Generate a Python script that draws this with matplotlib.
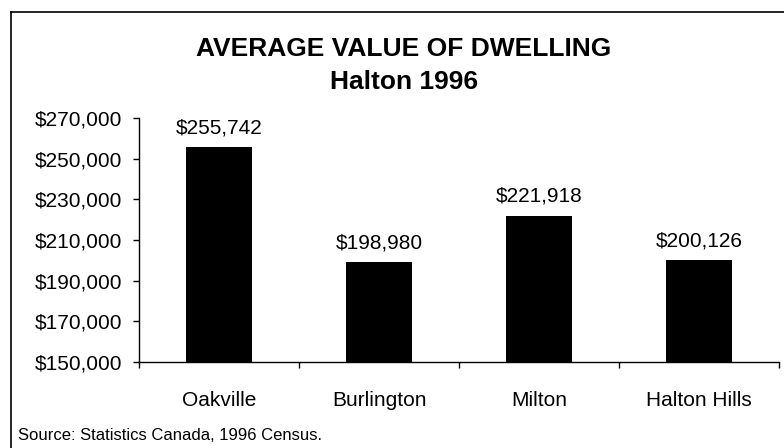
import matplotlib
matplotlib.use("Agg")
import matplotlib.pyplot as plt
import matplotlib.ticker as ticker
from matplotlib.lines import Line2D

towns = ["Oakville", "Burlington", "Milton", "Halton Hills"]
values = [255742, 198980, 221918, 200126]
y_ticks = [150000, 170000, 190000, 210000, 230000, 250000, 270000]

plt.rcParams["font.family"] = ["Liberation Sans", "DejaVu Sans"]


def main():
    fig = plt.figure(figsize=(7.84, 4.48), dpi=100)
    ax = fig.add_axes([139 / 784, 1 - 362 / 448, 640 / 784, 244 / 448])

    x = list(range(len(towns)))
    bars = ax.bar(x, values, width=0.415, color="black", bottom=0)
    for b, v in zip(bars, values):
        ax.annotate(f"${v:,}", (b.get_x() + b.get_width() / 2, v),
                    xytext=(0, 10), textcoords="offset points",
                    ha="center", va="baseline", fontsize=15)

    ax.set_xlim(-0.5, len(towns) - 0.5)
    ax.set_ylim(y_ticks[0], y_ticks[-1])
    ax.set_yticks(y_ticks)
    ax.yaxis.set_major_formatter(ticker.FuncFormatter(lambda v, pos: f"${int(v):,}"))
    ax.set_xticks(x)
    ax.set_xticklabels(towns)
    ax.set_xticks([i - 0.5 for i in range(len(towns) + 1)], minor=True)

    ax.tick_params(axis="x", which="major", length=0, pad=21, labelsize=15)
    ax.tick_params(axis="x", which="minor", length=4.3, width=1, direction="out")
    ax.tick_params(axis="y", length=4.3, width=1, pad=8, labelsize=15)

    for s in ["top", "right"]:
        ax.spines[s].set_visible(False)
    for s in ["left", "bottom"]:
        ax.spines[s].set_linewidth(1)

    fig.text(404 / 784, 1 - 56 / 448, "AVERAGE VALUE OF DWELLING",
             ha="center", va="baseline", fontsize=19, fontweight="bold")
    fig.text(404 / 784, 1 - 89 / 448, "Halton 1996",
             ha="center", va="baseline", fontsize=19, fontweight="bold")
    fig.text(18 / 784, 1 - 440 / 448, "Source: Statistics Canada, 1996 Census.",
             ha="left", va="baseline", fontsize=12)

    # outer frame (only top and left edges fall inside the image)
    fig.add_artist(Line2D([11 / 784, 11 / 784], [0, 1 - 12 / 448],
                          transform=fig.transFigure, color="black", lw=1.2))
    fig.add_artist(Line2D([11 / 784, 1], [1 - 12 / 448, 1 - 12 / 448],
                          transform=fig.transFigure, color="black", lw=1.2))

    fig.savefig("out.png", dpi=100)


if __name__ == "__main__":
    main()
